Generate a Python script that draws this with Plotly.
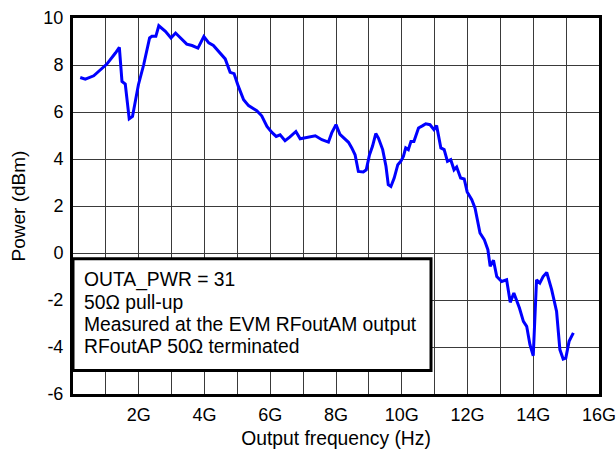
import plotly.graph_objects as go

freq_ghz = [0.22, 0.375, 0.63, 0.78, 1.03, 1.29, 1.41, 1.49, 1.59, 1.71, 1.81, 1.99, 2.15, 2.33, 2.40, 2.52,
            2.61, 2.81, 2.98, 3.12, 3.31, 3.46, 3.62, 3.80, 3.98, 4.13, 4.27, 4.48, 4.63, 4.78, 4.90, 5.03,
            5.19, 5.34, 5.59, 5.74, 5.90, 6.05, 6.18, 6.30, 6.45, 6.60, 6.78, 6.91, 7.11, 7.37, 7.57, 7.77,
            7.87, 8.00, 8.12, 8.28, 8.38, 8.48, 8.58, 8.68, 8.83, 8.92, 9.02, 9.11, 9.21, 9.29, 9.42, 9.52,
            9.59, 9.67, 9.77, 9.88, 9.97, 10.05, 10.12, 10.20, 10.28, 10.37, 10.51, 10.64, 10.73, 10.86,
            10.98, 11.06, 11.19, 11.29, 11.39, 11.49, 11.59, 11.67, 11.79, 11.90, 11.99, 12.13, 12.23,
            12.38, 12.51, 12.62, 12.69, 12.79, 12.89, 13.04, 13.19, 13.30, 13.41, 13.58, 13.70, 13.80,
            13.90, 14.00, 14.10, 14.20, 14.30, 14.41, 14.56, 14.71, 14.81, 14.91, 14.99, 15.09, 15.22]
power_dbm = [7.47, 7.40, 7.54, 7.73, 8.04, 8.51, 8.75, 7.30, 7.19, 5.71, 5.81, 7.16, 8.01, 9.15, 9.22, 9.22,
             9.67, 9.43, 9.15, 9.36, 9.08, 8.89, 8.83, 8.72, 9.21, 8.94, 8.83, 8.51, 8.26, 7.69, 7.63, 7.09,
             6.52, 6.27, 6.06, 5.84, 5.39, 5.13, 4.96, 5.03, 4.78, 4.94, 5.17, 4.86, 4.92, 4.99, 4.82, 4.72,
             5.11, 5.46, 5.05, 4.82, 4.71, 4.47, 4.18, 3.47, 3.45, 3.54, 4.18, 4.54, 5.08, 4.89, 4.40, 3.69,
             2.91, 2.83, 3.19, 3.76, 3.90, 4.11, 4.47, 4.40, 4.75, 4.75, 5.32, 5.42, 5.50, 5.46,
             5.25, 5.42, 4.47, 4.40, 3.90, 3.97, 3.54, 3.66, 3.19, 3.15, 2.60, 2.27, 1.91,
             0.85, 0.57, 0.14, -0.57, -0.31, -1.00, -1.21, -1.14, -2.10, -1.70, -2.34, -2.91, -3.12,
             -3.90, -4.37, -1.14, -1.28, -1.00, -0.83, -1.56, -2.49, -4.11, -4.51, -4.47, -3.76, -3.40]

x_grid_vals = list(range(1, 17))
x_tick_text = ["", "2G", "", "4G", "", "6G", "", "8G", "", "10G", "", "12G", "", "14G", "", "16G"]
y_tick_vals = [-6, -4, -2, 0, 2, 4, 6, 8, 10]
y_tick_text = ["-6", "-4", "-2", "0", "2", "4", "6", "8", "10"]

note_lines = ["OUTA_PWR = 31", "50\u03a9 pull-up", "Measured at the EVM RFoutAM output",
              "RFoutAP 50\u03a9 terminated"]
note_y = [-1.16, -2.11, -3.05, -3.98]

FONT = "Arial, Liberation Sans, sans-serif"

fig = go.Figure()
fig.add_trace(go.Scatter(x=freq_ghz, y=power_dbm, mode="lines",
                         line=dict(color="#0000FF", width=3), showlegend=False))

fig.add_shape(type="rect", xref="x", yref="y", x0=0, x1=10.89, y0=-5.0, y1=-0.24,
              fillcolor="white", line=dict(color="black", width=3), layer="above")

for txt, yy in zip(note_lines, note_y):
    fig.add_annotation(x=0.28, y=yy, xref="x", yref="y", text=txt, showarrow=False,
                       xanchor="left", yanchor="middle",
                       font=dict(family=FONT, size=19.3, color="black"))

fig.update_layout(
    template="none",
    width=616, height=452,
    margin=dict(l=73, r=17, t=18, b=58, autoexpand=False),
    paper_bgcolor="white", plot_bgcolor="white",
    font=dict(family=FONT, size=18, color="black"),
)
fig.update_xaxes(range=[0, 16], tickmode="array", tickvals=x_grid_vals, ticktext=x_tick_text,
                 showgrid=True, gridcolor="#3a3a3a", gridwidth=1,
                 showline=True, linecolor="black", linewidth=3, mirror=True,
                 ticks="outside", ticklen=2, tickcolor="rgba(0,0,0,0)", zeroline=False,
                 automargin=False, tickfont=dict(size=18), ticklabeloverflow="allow",
                 title=dict(text="Output frequency (Hz)", standoff=8,
                            font=dict(family=FONT, size=19.3)))
fig.update_yaxes(range=[-6, 10], tickmode="array", tickvals=y_tick_vals, ticktext=y_tick_text,
                 showgrid=True, gridcolor="#3a3a3a", gridwidth=1,
                 showline=True, linecolor="black", linewidth=3, mirror=True,
                 ticks="outside", ticklen=3, tickcolor="rgba(0,0,0,0)", zeroline=False,
                 automargin=False, tickfont=dict(size=18), ticklabeloverflow="allow",
                 title=dict(text="Power (dBm)", standoff=13,
                            font=dict(family=FONT, size=19)))

fig.write_html("out.html", config={"displayModeBar": False},
               post_script="document.body.style.margin='0';document.body.style.overflow='hidden';")
